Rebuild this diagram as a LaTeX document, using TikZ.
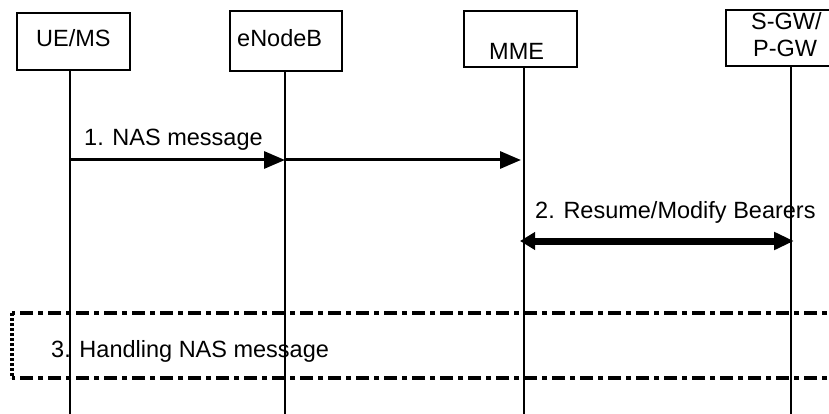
\documentclass[tikz,border=0pt]{standalone}
\usepackage{fontspec}
\setmainfont{Liberation Sans}
\usetikzlibrary{arrows.meta}
\begin{document}
\begin{tikzpicture}[x=1pt,y=-1pt,
  every node/.style={font=\fontsize{23.5}{26}\selectfont, inner sep=0pt},
  entity/.style={draw, line width=2pt, rectangle},
  lbl/.style={anchor=base west},
  life/.style={line width=2.2pt},
  msg/.style={line width=3pt, -{Triangle[length=21pt,width=17pt]}},
  bimsg/.style={line width=7pt, {Triangle[length=15pt,width=17pt]}-{Triangle[length=20pt,width=17pt]}},
  procline/.style={line width=3.5pt, dash pattern=on 13pt off 5pt on 5pt off 5pt},
  procside/.style={line width=4pt, dash pattern=on 3pt off 2pt}
]
\useasboundingbox (0,0) rectangle (829,414);
\clip (0,0) rectangle (829,414);
\fill[white] (0,0) rectangle (829,414);

% entity boxes
\node[entity, minimum width=113pt, minimum height=57pt] (ue) at (73.5,41.5) {};
\node[entity, minimum width=112pt, minimum height=60pt] (enb) at (286,41) {};
\node[entity, minimum width=113pt, minimum height=56pt] (mme) at (520.5,39) {};
\node[entity, minimum width=120pt, minimum height=56pt] (sgw) at (786,38) {};

\node[lbl] (ueT) at (36,47) {UE/MS};
\node[lbl] (enbT) at (237,47) {eNodeB};
\node[lbl] (mmeT) at (489,60) {MME};
\node[lbl] (sgwT1) at (751,30) {S-GW/};
\node[lbl] (sgwT2) at (753,57) {P-GW};

% lifeline ends
\coordinate (ueB) at (70,414);
\coordinate (enbB) at (285,414);
\coordinate (mmeB) at (524,414);
\coordinate (sgwB) at (791,414);

\draw[life] (ue.south -| ueB) -- (ueB);
\draw[life] (enb.south -| enbB) -- (enbB);
\draw[life] (mme.south -| mmeB) -- (mmeB);
\draw[life] (sgw.south -| sgwB) -- (sgwB);

% message 1
\coordinate (m1a) at (70,160);
\coordinate (m1b) at (285,160);
\coordinate (m1c) at (521,160);
\draw[msg] (m1a) -- (m1b);
\draw[msg] (m1b) -- (m1c);
\node[lbl] (m1T) at (84,146) {1. NAS message};

% message 2
\coordinate (m2a) at (520,241);
\coordinate (m2b) at (794,241);
\draw[bimsg] (m2a) -- (m2b);
\node[lbl] (m2T) at (535,218) {2. Resume/Modify Bearers};

% procedure box
\coordinate (pTL) at (12,313);
\coordinate (pBL) at (12,378);
\coordinate (pTR) at (845,313);
\coordinate (pBR) at (845,378);
\draw[procline] (pTR) -- (pTL);
\draw[procline] (pBR) -- (pBL);
\draw[procside] (pTL) -- (pBL);
\node[lbl] (pT) at (51,357) {3. Handling NAS message};
\end{tikzpicture}
\end{document}
